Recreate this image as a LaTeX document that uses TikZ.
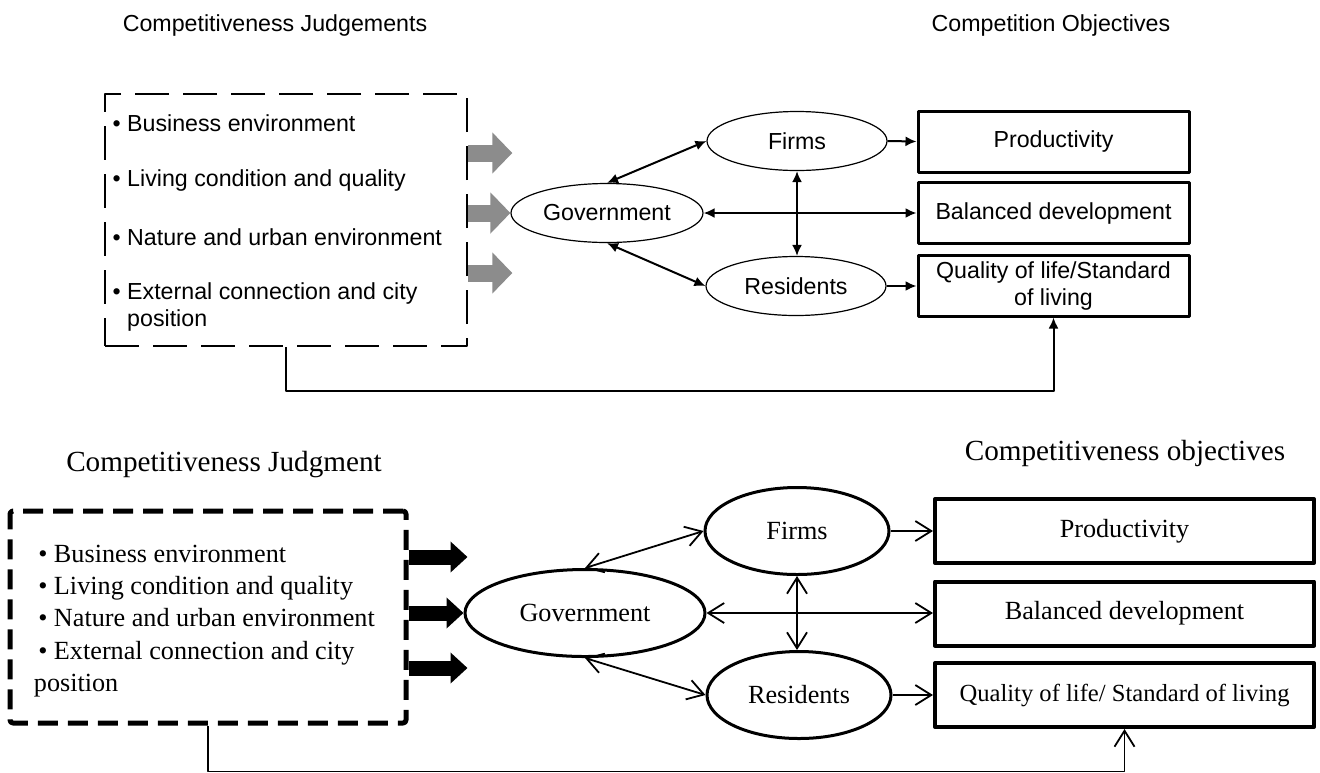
\documentclass[tikz,border=0pt]{standalone}
\usepackage{fontspec}
\setmainfont{Liberation Serif}
\setsansfont{Liberation Sans}
\usetikzlibrary{arrows.meta,shapes.geometric}
\tikzset{
  sans/.style={font=\sffamily\fontsize{11.6}{13.5}\selectfont},
  serif/.style={font=\fontsize{13.1}{16.1}\selectfont},
  titleB/.style={font=\fontsize{14.6}{17}\selectfont},
  judgA/.style={draw, line width=1.3pt, dash pattern=on 17pt off 7pt, line cap=butt, minimum width=181pt, minimum height=126pt},
  judgB/.style={draw, line width=2.5pt, dash pattern=on 10pt off 5pt, line cap=butt, rounded corners=1.5pt, minimum width=198pt, minimum height=106pt},
  ellA/.style={ellipse, draw, line width=0.6pt, inner sep=0pt, minimum width=90pt, minimum height=29.5pt, sans},
  ellB/.style={ellipse, draw, line width=1.5pt, inner sep=0pt, minimum width=92pt, minimum height=43.5pt, serif},
  boxA/.style={draw, line width=1.5pt, inner sep=0pt, minimum width=135.5pt, minimum height=30.5pt, sans},
  boxB/.style={draw, line width=2pt, inner sep=0pt, minimum width=189.5pt, minimum height=32pt, serif},
  fatA/.style={draw=black!45, line width=8.5pt, line cap=butt, -{Triangle[length=10pt,width=20pt]}},
  fatB/.style={draw=black, line width=7.5pt, line cap=butt, -{Triangle[length=8.5pt,width=15pt]}}
}
\begin{document}
\begin{tikzpicture}[x=0.5pt,y=-0.5pt,line join=round]
\useasboundingbox (0,0) rectangle (1320,772);
% upper figure (scanned version)
\begin{scope}[>={Latex[length=5.5pt,width=5pt]}, line width=1pt]
  \node[sans] (titleJ1) at (275,25) {Competitiveness Judgements};
  \node[sans] (titleO1) at (1051,25) {Competition Objectives};
  \node[judgA] (judg1) at (286,220) {};
  \foreach \y/\txt in {123/Business environment, 180/Living condition and quality, 237/Nature and urban environment}
    \node[sans, anchor=west] (item1-\y) at (105,\y) {\textbullet\ \txt};
  \node[sans, anchor=west, align=left] (item1-ext) at (105,306.5) {\textbullet\ External connection and city\\\phantom{\textbullet\ }position};
  \node[ellA, minimum width=96pt] (gov1) at (607,213) {Government};
  \node[ellA] (firms1) at (797,141) {Firms};
  \node[ellA] (res1) at (796,286) {Residents};
  \node[boxA] (prod1) at (1053.5,141.5) {Productivity};
  \node[boxA] (bal1) at (1053.5,213) {Balanced development};
  \node[boxA, align=center] (qual1) at (1053.5,285.5) {Quality of life/Standard\\of living};
  \foreach \y in {153,273} \draw[fatA] (judg1.east |- 0,\y) -- ++(44,0);
  \draw[fatA] (judg1.east |- gov1) -- (gov1.west);
  \draw[<->] (gov1.north) -- (firms1.west);
  \draw[<->] (gov1.south) -- (res1.west);
  \draw[<->] (gov1.east) -- (bal1.west);
  \draw[<->] (firms1.south) -- (firms1.south |- res1.north);
  \draw[->] (firms1.east) -- (prod1.west);
  \draw[->] (res1.east) -- (res1.east -| qual1.west);
  \draw[->] (judg1.south) -- ++(0,44) -| (qual1.south);
\end{scope}
% lower figure (redrawn version)
\begin{scope}[>={Straight Barb[length=8pt,width=10pt]}, line width=0.9pt]
  \node[titleB] (titleJ2) at (224,465) {Competitiveness Judgment};
  \node[titleB] (titleO2) at (1125,453) {Competitiveness objectives};
  \node[judgB] (judg2) at (208,617) {};
  \node[serif, anchor=west, align=left, inner sep=0pt] (items2) at (33,621) {\,\textbullet\ Business environment\\\,\textbullet\ Living condition and quality\\\,\textbullet\ Nature and urban environment\\\,\textbullet\ External connection and city\\position};
  \node[ellB, minimum width=120pt] (gov2) at (585,613) {Government};
  \node[ellB] (firms2) at (797,531) {Firms};
  \node[ellB] (res2) at (799,695) {Residents};
  \node[boxB] (prod2) at (1124.5,531) {Productivity};
  \node[boxB] (bal2) at (1124.5,613.5) {Balanced development};
  \node[boxB, font=\fontsize{12.3}{15}\selectfont] (qual2) at (1124.5,695) {Quality of life/ Standard of living};
  \foreach \y in {557,668} \draw[fatB] (judg2.east |- 0,\y) -- ++(59,0);
  \draw[fatB] (judg2.east |- gov2) -- (gov2.west);
  \draw[<->] (gov2.north) -- (firms2.west);
  \draw[<->] (gov2.south) -- (res2.west);
  \draw[<->] (gov2.east) -- (gov2.east -| bal2.west);
  \draw[<->] (firms2.south) -- (firms2.south |- res2.north);
  \draw[->] (firms2.east) -- (prod2.west);
  \draw[->] (res2.east) -- (qual2.west);
  \draw[->] (judg2.south) -- ++(0,46) -| (qual2.south);
\end{scope}
\end{tikzpicture}
\end{document}
